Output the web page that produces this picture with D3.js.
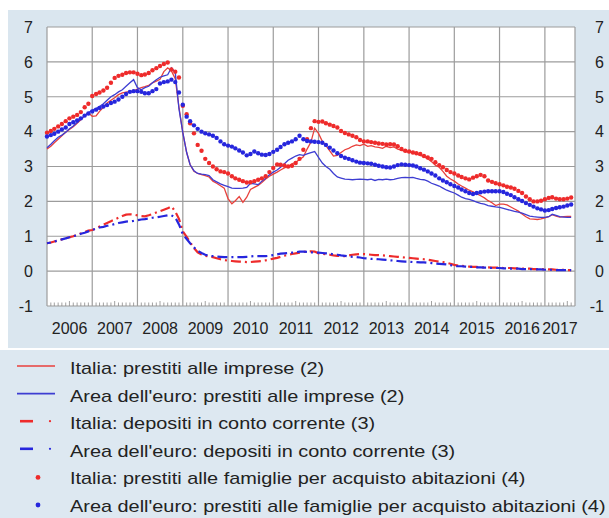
<!DOCTYPE html>
<html>
<head>
<meta charset="utf-8">
<script src="https://cdnjs.cloudflare.com/ajax/libs/d3/7.8.5/d3.min.js"></script>
<style>
  body { margin: 0; background: #fff; }
  svg text { font-family: "Liberation Sans", Arial, Helvetica, sans-serif; fill: #222; }
</style>
</head>
<body>
<div id="chart"></div>
<script>
// monthly series, first value = January 2006
var itImprese = [
  3.50, 3.58, 3.68, 3.78, 3.88, 3.98, 4.06, 4.14, 4.24, 4.34, 4.46, 4.54,
  4.44, 4.45, 4.58, 4.70, 4.82, 4.90, 4.97, 5.06, 5.11, 5.13, 5.15, 5.17,
  5.22, 5.26, 5.29, 5.33, 5.40, 5.45, 5.50, 5.72, 5.83, 5.74, 5.52, 4.70,
  3.97, 3.40, 3.05, 2.86, 2.80, 2.77, 2.74, 2.70, 2.58, 2.52, 2.45, 2.38,
  2.08, 1.93, 2.02, 2.14, 1.97, 2.12, 2.34, 2.40, 2.46, 2.54, 2.64, 2.72,
  2.78, 2.84, 2.90, 2.96, 3.00, 3.08, 3.12, 3.20, 3.28, 3.50, 3.70, 4.10,
  3.95, 3.72, 3.60, 3.45, 3.30, 3.32, 3.40, 3.48, 3.52, 3.58, 3.62, 3.60,
  3.64, 3.58, 3.60, 3.56, 3.55, 3.52, 3.58, 3.54, 3.56, 3.50, 3.47, 3.43,
  3.42, 3.40, 3.36, 3.32, 3.28, 3.22, 3.14, 3.04, 2.98, 2.86, 2.72, 2.64,
  2.58, 2.50, 2.44, 2.38, 2.32, 2.27, 2.22, 2.16, 2.10, 2.02, 1.96, 1.88,
  1.92, 1.92, 1.90, 1.84, 1.78, 1.72, 1.64, 1.56, 1.50, 1.49, 1.48, 1.50,
  1.53, 1.56, 1.62, 1.58, 1.55, 1.56, 1.57, 1.57
];

var euImprese = [
  3.54, 3.64, 3.74, 3.84, 3.90, 3.98, 4.08, 4.16, 4.26, 4.36, 4.46, 4.54,
  4.62, 4.66, 4.72, 4.80, 4.90, 5.00, 5.06, 5.14, 5.20, 5.30, 5.40, 5.49,
  5.26, 5.20, 5.26, 5.30, 5.40, 5.49, 5.56, 5.60, 5.63, 5.83, 5.70, 4.65,
  3.97, 3.40, 3.05, 2.88, 2.80, 2.78, 2.77, 2.74, 2.62, 2.56, 2.50, 2.46,
  2.42, 2.38, 2.37, 2.37, 2.38, 2.40, 2.52, 2.50, 2.48, 2.58, 2.66, 2.76,
  2.84, 2.90, 2.98, 3.08, 3.18, 3.24, 3.30, 3.34, 3.32, 3.36, 3.40, 3.43,
  3.26, 3.10, 3.00, 2.92, 2.80, 2.70, 2.67, 2.64, 2.63, 2.62, 2.63, 2.64,
  2.63, 2.62, 2.64, 2.60, 2.63, 2.62, 2.64, 2.62, 2.63, 2.66, 2.68, 2.69,
  2.68, 2.69, 2.66, 2.63, 2.62, 2.58, 2.52, 2.48, 2.44, 2.38, 2.32, 2.28,
  2.24, 2.18, 2.12, 2.08, 2.06, 2.02, 1.98, 1.94, 1.92, 1.88, 1.86, 1.84,
  1.83, 1.80, 1.77, 1.74, 1.71, 1.69, 1.66, 1.62, 1.58, 1.56, 1.55, 1.54,
  1.54, 1.56, 1.63, 1.60, 1.56, 1.55, 1.54, 1.54
];

var itDepositi = [
  0.80, 0.82, 0.85, 0.88, 0.91, 0.94, 0.97, 1.00, 1.04, 1.08, 1.12, 1.16,
  1.18, 1.22, 1.28, 1.33, 1.38, 1.43, 1.48, 1.53, 1.58, 1.62, 1.63, 1.62,
  1.60, 1.58, 1.57, 1.60, 1.64, 1.68, 1.72, 1.76, 1.80, 1.86, 1.71, 1.50,
  1.14, 0.98, 0.83, 0.66, 0.54, 0.48, 0.44, 0.42, 0.40, 0.37, 0.34, 0.32,
  0.30, 0.29, 0.28, 0.27, 0.27, 0.26, 0.26, 0.27, 0.28, 0.29, 0.31, 0.33,
  0.36, 0.38, 0.41, 0.44, 0.47, 0.49, 0.51, 0.53, 0.55, 0.56, 0.57, 0.56,
  0.51, 0.50, 0.48, 0.47, 0.45, 0.44, 0.43, 0.43, 0.45, 0.47, 0.48, 0.49,
  0.49, 0.48, 0.47, 0.46, 0.46, 0.45, 0.44, 0.43, 0.42, 0.41, 0.40, 0.39,
  0.38, 0.37, 0.36, 0.35, 0.34, 0.33, 0.31, 0.29, 0.27, 0.26, 0.24, 0.21,
  0.18, 0.16, 0.15, 0.14, 0.13, 0.12, 0.12, 0.11, 0.11, 0.11, 0.10, 0.10,
  0.10, 0.09, 0.09, 0.09, 0.08, 0.08, 0.07, 0.07, 0.07, 0.06, 0.06, 0.06,
  0.05, 0.05, 0.05, 0.04, 0.04, 0.04, 0.03, 0.03
];

var euDepositi = [
  0.80, 0.82, 0.85, 0.88, 0.91, 0.94, 0.97, 1.00, 1.03, 1.07, 1.10, 1.14,
  1.18, 1.22, 1.25, 1.27, 1.30, 1.32, 1.35, 1.38, 1.40, 1.42, 1.43, 1.44,
  1.46, 1.48, 1.49, 1.51, 1.53, 1.54, 1.56, 1.58, 1.60, 1.60, 1.54, 1.34,
  1.06, 0.92, 0.80, 0.68, 0.58, 0.52, 0.47, 0.44, 0.43, 0.42, 0.41, 0.40,
  0.40, 0.40, 0.40, 0.40, 0.40, 0.41, 0.42, 0.43, 0.43, 0.43, 0.43, 0.44,
  0.46, 0.48, 0.50, 0.51, 0.52, 0.53, 0.54, 0.56, 0.56, 0.55, 0.54, 0.53,
  0.53, 0.52, 0.51, 0.50, 0.48, 0.47, 0.45, 0.44, 0.42, 0.41, 0.40, 0.39,
  0.37, 0.36, 0.35, 0.35, 0.34, 0.33, 0.32, 0.31, 0.30, 0.29, 0.28, 0.27,
  0.27, 0.26, 0.26, 0.25, 0.25, 0.24, 0.23, 0.22, 0.21, 0.20, 0.19, 0.17,
  0.15, 0.14, 0.14, 0.13, 0.12, 0.12, 0.11, 0.11, 0.10, 0.10, 0.09, 0.09,
  0.09, 0.08, 0.08, 0.07, 0.07, 0.07, 0.06, 0.06, 0.06, 0.05, 0.05, 0.05,
  0.04, 0.04, 0.04, 0.03, 0.03, 0.03, 0.03, 0.03
];

var itMutui = [
  3.97, 4.02, 4.08, 4.15, 4.22, 4.30, 4.38, 4.43, 4.48, 4.56, 4.70, 4.80,
  5.02, 5.08, 5.12, 5.18, 5.26, 5.40, 5.54, 5.60, 5.63, 5.68, 5.70, 5.70,
  5.66, 5.62, 5.64, 5.68, 5.76, 5.82, 5.88, 5.94, 5.98, 5.78, 5.72, 5.55,
  4.74, 4.50, 4.24, 3.95, 3.62, 3.45, 3.22, 3.10, 3.00, 2.92, 2.86, 2.84,
  2.80, 2.72, 2.66, 2.62, 2.58, 2.54, 2.55, 2.58, 2.62, 2.66, 2.72, 2.84,
  2.96, 3.06, 3.05, 3.03, 3.00, 3.02, 3.10, 3.22, 3.48, 3.78, 4.10, 4.30,
  4.28, 4.29, 4.24, 4.20, 4.16, 4.12, 4.02, 3.96, 3.92, 3.88, 3.84, 3.76,
  3.72, 3.72, 3.70, 3.68, 3.66, 3.65, 3.63, 3.64, 3.63, 3.58, 3.50, 3.45,
  3.43, 3.40, 3.38, 3.36, 3.30, 3.26, 3.22, 3.12, 3.04, 2.98, 2.90, 2.84,
  2.80, 2.74, 2.70, 2.66, 2.63, 2.68, 2.72, 2.76, 2.72, 2.60, 2.56, 2.52,
  2.49, 2.46, 2.42, 2.40, 2.36, 2.30, 2.24, 2.14, 2.06, 2.00, 2.00, 2.02,
  2.06, 2.10, 2.12, 2.08, 2.06, 2.06, 2.08, 2.11
];

var euMutui = [
  3.86, 3.90, 3.94, 4.00, 4.06, 4.12, 4.22, 4.27, 4.32, 4.38, 4.46, 4.52,
  4.58, 4.63, 4.68, 4.72, 4.76, 4.82, 4.86, 4.92, 5.00, 5.08, 5.14, 5.16,
  5.16, 5.14, 5.10, 5.10, 5.16, 5.22, 5.38, 5.42, 5.44, 5.49, 5.42, 5.12,
  4.77, 4.43, 4.30, 4.18, 4.08, 4.00, 3.95, 3.92, 3.88, 3.82, 3.72, 3.64,
  3.60, 3.57, 3.52, 3.46, 3.40, 3.32, 3.36, 3.43, 3.38, 3.34, 3.33, 3.36,
  3.42, 3.48, 3.56, 3.64, 3.68, 3.72, 3.78, 3.88, 3.78, 3.73, 3.72, 3.71,
  3.70, 3.68, 3.62, 3.54, 3.46, 3.38, 3.30, 3.25, 3.22, 3.18, 3.14, 3.11,
  3.10, 3.09, 3.08, 3.05, 3.02, 3.00, 2.98, 2.97, 3.00, 3.04, 3.06, 3.05,
  3.04, 3.03, 3.00, 2.95, 2.91, 2.86, 2.80, 2.74, 2.66, 2.60, 2.55, 2.49,
  2.44, 2.40, 2.34, 2.29, 2.24, 2.21, 2.24, 2.26, 2.28, 2.29, 2.29, 2.29,
  2.29, 2.27, 2.22, 2.18, 2.12, 2.06, 2.01, 1.95, 1.90, 1.85, 1.80, 1.77,
  1.74, 1.75, 1.78, 1.81, 1.83, 1.85, 1.88, 1.91
];

var yearLabels = [2006, 2007, 2008, 2009, 2010, 2011, 2012, 2013, 2014, 2015, 2016, 2017];
var yTicks = [-1, 0, 1, 2, 3, 4, 5, 6, 7];

var legendLabels = [
  "Italia: prestiti alle imprese (2)",
  "Area dell'euro: prestiti alle imprese (2)",
  "Italia: depositi in conto corrente (3)",
  "Area dell'euro: depositi in conto corrente (3)",
  "Italia: prestiti alle famiglie per acquisto abitazioni (4)",
  "Area dell'euro: prestiti alle famiglie per acquisto abitazioni (4)"
];

var width = 609, height = 518;
var plot = {left: 47, right: 575, top: 27, bottom: 306};
var red = "#ee2b2b", blue = "#2626dd";
var redLine = "#e8413c", blueLine = "#3d3dd2";
var panelColor = "#dae6ef";

var start = new Date(2006, 0, 1), end = new Date(2017, 8, 1);

var svg = d3.select("#chart")
  .append("svg")
  .attr("width", width)
  .attr("height", height);

// background panels
svg.append("rect")
  .attr("x", 8).attr("y", 10)
  .attr("width", width - 8).attr("height", 338)
  .attr("fill", panelColor);

svg.append("rect")
  .attr("x", 0).attr("y", 350)
  .attr("width", width).attr("height", height - 350)
  .attr("fill", "#dde8f1");

var x = d3.scaleTime()
  .domain([start, end])
  .range([plot.left, plot.right]);

var y = d3.scaleLinear()
  .domain([-1, 7])
  .range([plot.bottom, plot.top]);

svg.append("rect")
  .attr("x", plot.left).attr("y", plot.top)
  .attr("width", plot.right - plot.left)
  .attr("height", plot.bottom - plot.top)
  .attr("fill", "#fff");

// grid
var grid = svg.append("g")
  .attr("stroke", "#9c9c9c")
  .attr("stroke-width", 1.2);

grid.selectAll(".hgrid")
  .data(yTicks)
  .enter().append("line")
  .attr("x1", plot.left).attr("x2", plot.right)
  .attr("y1", function(d) { return y(d); })
  .attr("y2", function(d) { return y(d); });

var yearStarts = d3.timeYear.range(new Date(2007, 0, 1), end);

grid.selectAll(".vgrid")
  .data(yearStarts)
  .enter().append("line")
  .attr("y1", plot.top).attr("y2", plot.bottom)
  .attr("x1", function(d) { return x(d); })
  .attr("x2", function(d) { return x(d); });

grid.append("line")
  .attr("x1", plot.left).attr("x2", plot.left)
  .attr("y1", plot.top).attr("y2", plot.bottom);
grid.append("line")
  .attr("x1", plot.right).attr("x2", plot.right)
  .attr("y1", plot.top).attr("y2", plot.bottom);

// monthly minor ticks
var months = d3.timeMonth.range(start, end).filter(function(d) { return d.getMonth() !== 0; });
svg.append("g")
  .attr("stroke", "#8a8a8a")
  .attr("stroke-width", 0.8)
  .selectAll("line")
  .data(months)
  .enter().append("line")
  .attr("x1", function(d) { return x(d); })
  .attr("x2", function(d) { return x(d); })
  .attr("y1", plot.bottom)
  .attr("y2", function(d) { return plot.bottom - (d.getMonth() === 6 ? 5 : 3.5); });

// y labels, both sides
[{x: 33, anchor: "end"}, {x: 604, anchor: "end"}].forEach(function(side) {
  svg.append("g")
    .selectAll("text")
    .data(yTicks)
    .enter().append("text")
    .attr("x", side.x)
    .attr("y", function(d) { return y(d); })
    .attr("dy", "0.36em")
    .attr("text-anchor", side.anchor)
    .style("font-size", "16px")
    .text(function(d) { return d; });
});

// x labels, centred in each year
svg.append("g")
  .selectAll("text")
  .data(yearLabels)
  .enter().append("text")
  .attr("x", function(d) {
    var a = d3.max([start, new Date(d, 0, 1)]);
    var b = d3.min([end, new Date(d + 1, 0, 1)]);
    return (x(a) + x(b)) / 2;
  })
  .attr("y", 334)
  .attr("text-anchor", "middle")
  .style("font-size", "16px")
  .text(function(d) { return d; });

function monthDate(i) { return new Date(2006, i, 1); }

var line = d3.line()
  .x(function(d, i) { return x(monthDate(i)); })
  .y(function(d) { return y(d); });

var lines = svg.append("g").attr("fill", "none");

lines.append("path")
  .datum(itImprese)
  .attr("d", line)
  .attr("stroke", redLine)
  .attr("stroke-width", 1.3);

lines.append("path")
  .datum(euImprese)
  .attr("d", line)
  .attr("stroke", blueLine)
  .attr("stroke-width", 1.3);

lines.append("path")
  .datum(itDepositi)
  .attr("d", line)
  .attr("stroke", red)
  .attr("stroke-width", 2.2)
  .attr("stroke-dasharray", "10,4,2,4");

lines.append("path")
  .datum(euDepositi)
  .attr("d", line)
  .attr("stroke", blue)
  .attr("stroke-width", 2.2)
  .attr("stroke-dasharray", "10,4,2,4")
  .attr("stroke-dashoffset", 6);

function drawDots(data, color) {
  svg.append("g")
    .selectAll("circle")
    .data(data)
    .enter().append("circle")
    .attr("cx", function(d, i) { return x(monthDate(i)); })
    .attr("cy", function(d) { return y(d); })
    .attr("r", 2.2)
    .attr("fill", color);
}

drawDots(itMutui, red);
drawDots(euMutui, blue);

// legend
var legendTypes = ["solid", "solid", "dashdot", "dashdot", "dot", "dot"];
var legendColors = [redLine, blueLine, red, blue, red, blue];

var legend = svg.append("g");

var item = legend.selectAll("g")
  .data(legendLabels)
  .enter().append("g")
  .attr("transform", function(d, i) { return "translate(0," + (374 + i * 27.6) + ")"; });

item.each(function(d, i) {
  var g = d3.select(this);
  var c = legendColors[i];
  if (legendTypes[i] === "solid") {
    g.append("line")
      .attr("x1", 17).attr("x2", 55)
      .attr("y1", -8).attr("y2", -8)
      .attr("stroke", c).attr("stroke-width", 1.6);
  } else if (legendTypes[i] === "dashdot") {
    g.append("line")
      .attr("x1", 20).attr("x2", 33)
      .attr("y1", -8).attr("y2", -8)
      .attr("stroke", c).attr("stroke-width", 2.6);
    g.append("circle")
      .attr("cx", 50).attr("cy", -8).attr("r", 1.1)
      .attr("fill", c);
  } else {
    g.append("circle")
      .attr("cx", 38).attr("cy", -7).attr("r", 2.4)
      .attr("fill", c);
  }
  g.append("text")
    .attr("transform", "translate(70,0) scale(1.17,1)")
    .style("font-size", "17px")
    .text(d);
});
</script>
</body>
</html>
